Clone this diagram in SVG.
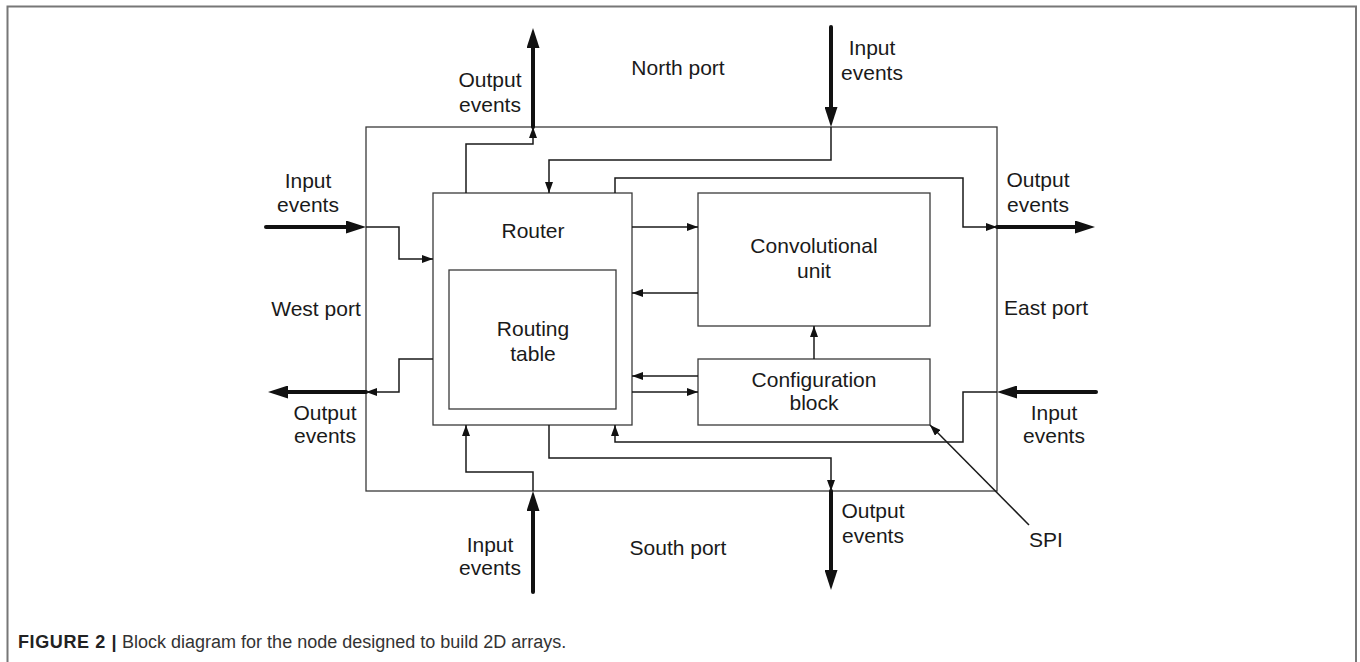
<svg xmlns="http://www.w3.org/2000/svg" width="1360" height="662" viewBox="0 0 1360 662">
<style>
.t{font-family:"Liberation Sans",Arial,sans-serif;font-size:21px;fill:#1a1a1a;text-anchor:middle}
.box{fill:none;stroke:#3a3a3a;stroke-width:1.3}
.w{fill:none;stroke:#1a1a1a;stroke-width:1.5}
.th{fill:none;stroke:#111;stroke-width:4;stroke-linecap:round}
.cap{font-family:"Liberation Sans",Arial,sans-serif;font-size:18px;fill:#333}
</style>
<defs>
<marker id="a" markerUnits="userSpaceOnUse" markerWidth="12" markerHeight="8" refX="11" refY="4" orient="auto">
<path d="M0,0 L11,4 L0,8 z" fill="#111"/>
</marker>
<marker id="b" markerUnits="userSpaceOnUse" markerWidth="20" markerHeight="13" refX="12" refY="6.5" orient="auto">
<path d="M0,0 L20,6.5 L0,13 z" fill="#111"/>
</marker>
</defs>
<rect width="1360" height="662" fill="#fff"/>
<path d="M7.5,662 V6.5 H1356 V662" fill="none" stroke="#777" stroke-width="2"/>

<g id="outer"><rect class="box" x="366" y="127" width="631" height="364"/></g>
<g id="router"><rect class="box" x="433" y="193" width="199" height="232"/><text class="t" x="533" y="238">Router</text></g>
<g id="routing-table"><rect class="box" x="449" y="270" width="167" height="139"/><text class="t" x="533" y="336">Routing</text><text class="t" x="533" y="361">table</text></g>
<g id="conv"><rect class="box" x="698" y="193" width="232" height="133"/><text class="t" x="814" y="253">Convolutional</text><text class="t" x="814" y="278">unit</text></g>
<g id="config"><rect class="box" x="698" y="359" width="232" height="66"/><text class="t" x="814" y="387">Configuration</text><text class="t" x="814" y="410">block</text></g>

<g id="labels">
<text class="t" x="678" y="75">North port</text>
<text class="t" x="490" y="87">Output</text><text class="t" x="490" y="112">events</text>
<text class="t" x="872" y="55">Input</text><text class="t" x="872" y="80">events</text>
<text class="t" x="308" y="188">Input</text><text class="t" x="308" y="212">events</text>
<text class="t" x="1038" y="187">Output</text><text class="t" x="1038" y="212">events</text>
<text class="t" x="316" y="316">West port</text>
<text class="t" x="1046" y="315">East port</text>
<text class="t" x="325" y="420">Output</text><text class="t" x="325" y="443">events</text>
<text class="t" x="1054" y="420">Input</text><text class="t" x="1054" y="443">events</text>
<text class="t" x="490" y="552">Input</text><text class="t" x="490" y="575">events</text>
<text class="t" x="873" y="518">Output</text><text class="t" x="873" y="543">events</text>
<text class="t" x="678" y="555">South port</text>
<text class="t" x="1046" y="547">SPI</text>
</g>

<g id="connectors">
<path class="th" d="M533,127 V36" marker-end="url(#b)"/>
<path class="th" d="M831,27 V119" marker-end="url(#b)"/>
<path class="th" d="M266,227 H358" marker-end="url(#b)"/>
<path class="th" d="M997,227 H1087" marker-end="url(#b)"/>
<path class="th" d="M366,392 H276" marker-end="url(#b)"/>
<path class="th" d="M1096,392 H1005" marker-end="url(#b)"/>
<path class="th" d="M533,592 V499" marker-end="url(#b)"/>
<path class="th" d="M831,491 V582" marker-end="url(#b)"/>

<path class="w" d="M466,193 V144 H533 V127" marker-end="url(#a)"/>
<path class="w" d="M831,127 V160 H549 V193" marker-end="url(#a)"/>
<path class="w" d="M615,193 V178 H963 V227 H997" marker-end="url(#a)"/>
<path class="w" d="M366,227 H399 V259 H433" marker-end="url(#a)"/>
<path class="w" d="M632,227 H698" marker-end="url(#a)"/>
<path class="w" d="M698,293 H632" marker-end="url(#a)"/>
<path class="w" d="M698,376 H632" marker-end="url(#a)"/>
<path class="w" d="M632,392 H698" marker-end="url(#a)"/>
<path class="w" d="M814,359 V326" marker-end="url(#a)"/>
<path class="w" d="M433,359 H399 V392 H366" marker-end="url(#a)"/>
<path class="w" d="M997,392 H963 V442 H615 V425" marker-end="url(#a)"/>
<path class="w" d="M533,491 V472 H466 V425" marker-end="url(#a)"/>
<path class="w" d="M549,425 V458 H831 V491" marker-end="url(#a)"/>
<path class="w" d="M1029,525 L930,425" marker-end="url(#a)"/>
</g>

<g id="caption">
<text class="cap" x="18" y="648"><tspan font-weight="bold" fill="#222" letter-spacing="0.6">FIGURE 2 |</tspan> Block diagram for the node designed to build 2D arrays.</text>
</g>
</svg>
